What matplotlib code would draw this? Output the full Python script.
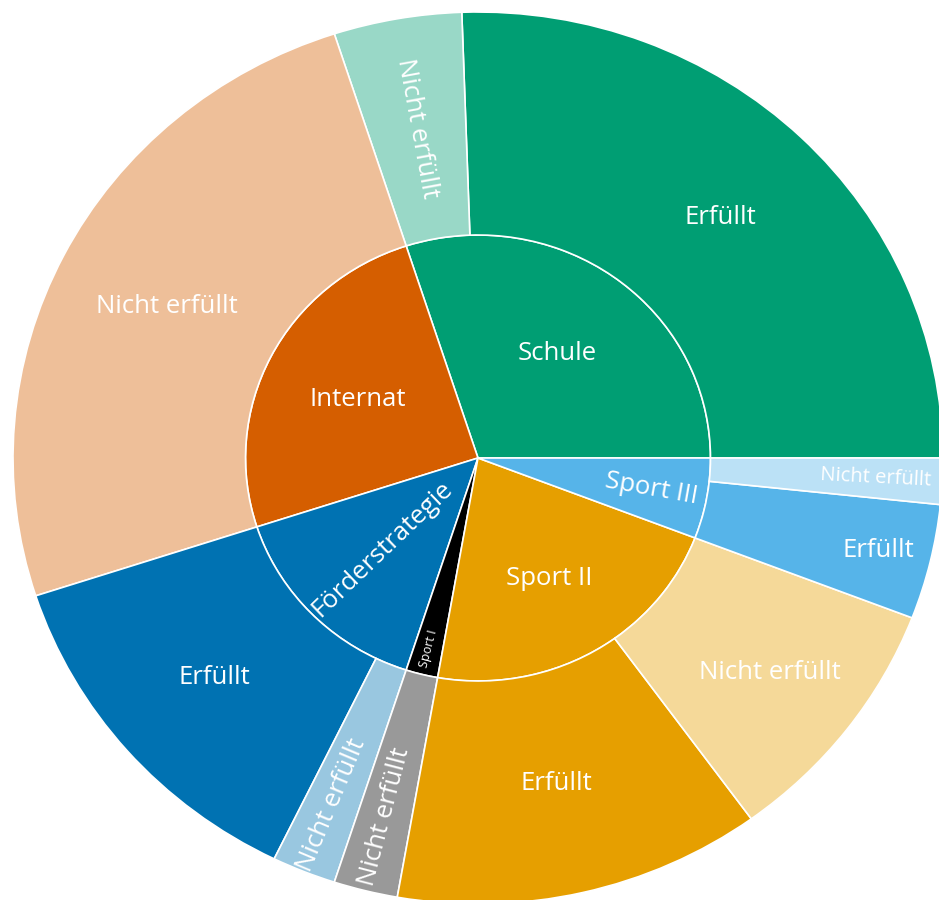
import matplotlib.pyplot as plt
from matplotlib.patches import Wedge
from matplotlib.colors import to_rgb
import numpy as np

# inner ring categories (counter-clockwise from 3 o'clock)
parents = ['Schule', 'Internat', 'Förderstrategie', 'Sport I', 'Sport II', 'Sport III']
colors = ['#009E73', '#D55E00', '#0072B2', '#000000', '#E69F00', '#56B4E9']
# outer ring values per parent
erfuellt = [46, 0, 23, 0, 23, 7.5]
nicht_erfuellt = [8, 45, 4, 4, 16.5, 3]
child_labels = ['Erfüllt', 'Nicht erfüllt']

plt.rcParams['font.family'] = ['Open Sans', 'DejaVu Sans']

W, H = 939, 900
fig = plt.figure(figsize=(W / 100, H / 100), dpi=100)
ax = fig.add_axes([0, 0, 1, 1])
# picture is slightly stretched horizontally
cx, cy, rx, ry = 478, 458, 465, 446
ax.set_xlim(-cx / rx, (W - cx) / rx)
ax.set_ylim(-(H - cy) / ry, cy / ry)
ax.axis('off')

FS = 18.5
# label placement: (radius, orientation, fontsize)
inner_place = {
    'Schule': (0.29, 'h', FS), 'Internat': (0.29, 'h', FS),
    'Förderstrategie': (0.29, 'r', FS), 'Sport I': (0.44, 'r', 9),
    'Sport II': (0.31, 'h', FS), 'Sport III': (0.38, 'r', FS),
}
outer_place = {
    ('Schule', 'Nicht erfüllt'): (0.75, 'r', FS),
    ('Förderstrategie', 'Nicht erfüllt'): (0.84, 'r', FS),
    ('Sport I', 'Nicht erfüllt'): (0.83, 'r', FS),
    ('Sport II', 'Nicht erfüllt'): (0.79, 'h', FS),
    ('Sport III', 'Erfüllt'): (0.886, 'h', FS),
    ('Sport III', 'Nicht erfüllt'): (0.856, 'r', 14.5),
}


def light(c, f=0.4):
    r, g, b = to_rgb(c)
    return (f * r + 1 - f, f * g + 1 - f, f * b + 1 - f)


def put_label(text, theta, place):
    r, mode, fs = place
    t = np.deg2rad(theta)
    x, y = r * np.cos(t), r * np.sin(t)
    rot = 0
    if mode == 'r':
        rot = np.degrees(np.arctan2(ry * np.sin(t), rx * np.cos(t)))
        if rot > 90:
            rot -= 180
        elif rot < -90:
            rot += 180
    ax.text(x, y, text, color='white', fontsize=fs, rotation=rot,
            rotation_mode='anchor', ha='center', va='center')


total = sum(erfuellt) + sum(nicht_erfuellt)
scale = 360.0 / total
start = 0.0
for p, col, e, n in zip(parents, colors, erfuellt, nicht_erfuellt):
    span = (e + n) * scale
    ax.add_patch(Wedge((0, 0), 0.5, start, start + span, facecolor=col,
                       edgecolor='white', linewidth=1.2))
    put_label(p, start + span / 2, inner_place[p])
    s = start
    for lab, v, fc in zip(child_labels, [e, n], [col, light(col)]):
        if v == 0:
            continue
        w = v * scale
        ax.add_patch(Wedge((0, 0), 1.0, s, s + w, width=0.5, facecolor=fc,
                           edgecolor='white', linewidth=1.2))
        put_label(lab, s + w / 2, outer_place.get((p, lab), (0.75, 'h', FS)))
        s += w
    start += span

fig.savefig('out.png', dpi=100)
